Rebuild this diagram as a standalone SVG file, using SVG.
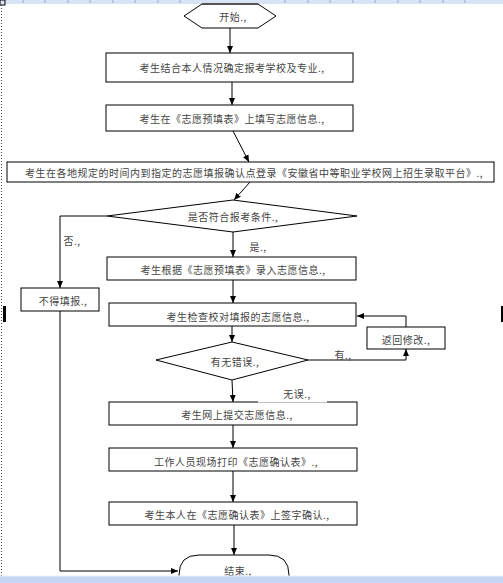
<svg xmlns="http://www.w3.org/2000/svg" width="503" height="583" viewBox="0 0 503 583">
<style>
.box{fill:#fff;stroke:#000;stroke-width:1}
.ln{fill:none;stroke:#000;stroke-width:1}
.t{font-family:"Noto Sans CJK SC","Noto Sans",sans-serif;font-size:10px;fill:#444;text-anchor:middle;dominant-baseline:central;letter-spacing:0.5px}
.tick{stroke:#9aa8c4;stroke-width:1}
</style>
<defs>
<marker id="ah" markerWidth="7" markerHeight="6" refX="7" refY="3" orient="auto" markerUnits="userSpaceOnUse">
<path d="M0,0 L7,3 L0,6 Z" fill="#000"/>
</marker>
</defs>
<rect x="0" y="0" width="503" height="583" fill="#fff"/>
<!-- page chrome -->
<rect x="0" y="0" width="503" height="4" fill="#d9e3f6"/>
<g class="tick">
<line x1="23" y1="0" x2="23" y2="3"/><line x1="45" y1="0" x2="45" y2="3"/><line x1="68" y1="0" x2="68" y2="3"/><line x1="90" y1="0" x2="90" y2="3"/><line x1="113" y1="0" x2="113" y2="3"/><line x1="135" y1="0" x2="135" y2="3"/><line x1="158" y1="0" x2="158" y2="3"/><line x1="180" y1="0" x2="180" y2="3"/><line x1="285" y1="0" x2="285" y2="3"/><line x1="308" y1="0" x2="308" y2="3"/><line x1="330" y1="0" x2="330" y2="3"/><line x1="353" y1="0" x2="353" y2="3"/><line x1="375" y1="0" x2="375" y2="3"/><line x1="398" y1="0" x2="398" y2="3"/><line x1="420" y1="0" x2="420" y2="3"/><line x1="443" y1="0" x2="443" y2="3"/><line x1="465" y1="0" x2="465" y2="3"/>
</g>
<rect x="0" y="0" width="5" height="5" fill="none" stroke="#000" stroke-width="1"/>
<line x1="1.5" y1="5" x2="1.5" y2="576" stroke="#444" stroke-width="1" stroke-dasharray="1,2"/>
<rect x="3" y="306" width="3" height="16" fill="#000"/>
<rect x="501" y="306" width="2" height="16" fill="#000"/>

<g id="connectors">
<line class="ln" x1="230" y1="28" x2="230" y2="53" marker-end="url(#ah)"/>
<line class="ln" x1="232" y1="82" x2="232" y2="105" marker-end="url(#ah)"/>
<line class="ln" x1="233" y1="131" x2="249" y2="162" marker-end="url(#ah)"/>
<line class="ln" x1="250" y1="182" x2="234" y2="200" marker-end="url(#ah)"/>
<line class="ln" x1="233" y1="232" x2="233" y2="257" marker-end="url(#ah)"/>
<polyline class="ln" points="107,216 60,216 60,288" marker-end="url(#ah)"/>
<polyline class="ln" points="60,311 60,571 178,571" marker-end="url(#ah)"/>
<line class="ln" x1="233" y1="280" x2="233" y2="303" marker-end="url(#ah)"/>
<line class="ln" x1="232" y1="326" x2="232" y2="342" marker-end="url(#ah)"/>
<polyline class="ln" points="308,360 406,360 406,349" marker-end="url(#ah)"/>
<polyline class="ln" points="406,327 406,316 357,316" marker-end="url(#ah)"/>
<line class="ln" x1="232" y1="380" x2="233" y2="402" marker-end="url(#ah)"/>
<line class="ln" x1="233" y1="425" x2="233" y2="448" marker-end="url(#ah)"/>
<line class="ln" x1="233" y1="471" x2="233" y2="502" marker-end="url(#ah)"/>
<line class="ln" x1="234" y1="525" x2="234" y2="555" marker-end="url(#ah)"/>
<text class="t" x="72" y="240">否.,</text>
<text class="t" x="258" y="246">是.,</text>
<text class="t" x="343" y="354">有.,</text>
</g>

<g id="start">
<polygon class="box" points="202,4 258,4 276,16 258,28 202,28 184,16"/>
<line x1="202" y1="4" x2="258" y2="4" stroke="#555" stroke-width="2"/>
<text class="t" x="233" y="16">开始.,</text>
</g>
<g id="n1">
<rect class="box" x="106" y="53" width="247" height="29"/>
<text class="t" x="232" y="67">考生结合本人情况确定报考学校及专业.,</text>
</g>
<g id="n2">
<rect class="box" x="106" y="105" width="247" height="26"/>
<text class="t" x="232" y="118">考生在《志愿预填表》上填写志愿信息.,</text>
</g>
<g id="n3">
<rect class="box" x="7" y="162" width="487" height="20"/>
<text class="t" x="254" y="172">考生在各地规定的时间内到指定的志愿填报确认点登录《安徽省中等职业学校网上招生录取平台》.,</text>
</g>
<g id="d1">
<polygon class="box" points="233,200 357,216 233,232 107,216"/>
<text class="t" x="233" y="216">是否符合报考条件.,</text>
</g>
<g id="no">
<rect class="box" x="21" y="288" width="78" height="23"/>
<text class="t" x="63" y="300">不得填报.,</text>
</g>
<g id="n4">
<rect class="box" x="107" y="257" width="249" height="23"/>
<text class="t" x="233" y="269">考生根据《志愿预填表》录入志愿信息.,</text>
</g>
<g id="n5">
<rect class="box" x="109" y="303" width="247" height="23"/>
<text class="t" x="238" y="316">考生检查校对填报的志愿信息.,</text>
</g>
<g id="d2">
<polygon class="box" points="232,342 308,360 232,380 156,360"/>
<text class="t" x="235" y="361">有无错误.,</text>
</g>
<g id="ret">
<rect class="box" x="367" y="327" width="78" height="22"/>
<text class="t" x="406" y="339">返回修改.,</text>
</g>
<g id="n6">
<rect class="box" x="109" y="402" width="248" height="23"/>
<rect x="258" y="384" width="69" height="18.5" fill="#fff"/>
<text class="t" x="297" y="393">无误.,</text>
<text class="t" x="237" y="414">考生网上提交志愿信息.,</text>
</g>
<g id="n7">
<rect class="box" x="109" y="448" width="248" height="23"/>
<text class="t" x="236" y="461">工作人员现场打印《志愿确认表》.,</text>
</g>
<g id="n8">
<rect class="box" x="109" y="502" width="248" height="23"/>
<text class="t" x="237" y="514">考生本人在《志愿确认表》上签字确认.,</text>
</g>
<g id="end">
<path class="box" d="M179,590 L179,575 Q179,555 199,555 L269,555 Q289,555 289,575 L289,590"/>
<text class="t" x="238" y="570">结束.,</text>
</g>
<rect x="0" y="576" width="503" height="7" fill="#c6d6f4"/>
<line x1="0" y1="576" x2="503" y2="576" stroke="#e8eefb" stroke-width="1"/>
</svg>
